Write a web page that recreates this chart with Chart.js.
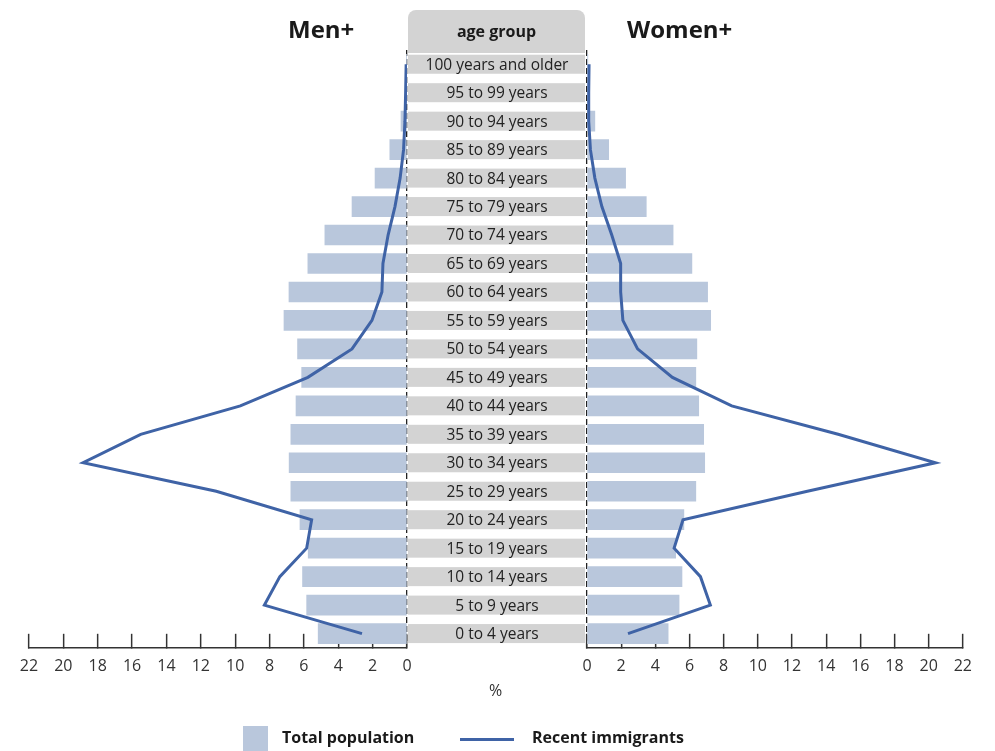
<!DOCTYPE html>
<html>
<head>
<meta charset="utf-8">
<script src="https://cdn.jsdelivr.net/npm/chart.js@4.4.0/dist/chart.umd.min.js"></script>
<style>
  body { margin: 0; background: #fff; font-family: "Open Sans", Lato, sans-serif; color: #1a1a1a; }
  #wrap { position: relative; width: 995px; height: 751px; overflow: hidden; }
  canvas { position: absolute; left: 0; top: 0; }
  .titulo { position: absolute; top: 12px; font-size: 24px; font-weight: bold; }
  #cabecera { position: absolute; left: 408px; top: 10px; width: 177px; height: 43px; background: #d3d3d3;
    border-radius: 8px 8px 0 0; text-align: center; line-height: 43px; font-size: 16px; font-weight: bold; }
  #pct { position: absolute; left: 489px; top: 679px; font-size: 16px; color: #333; }
  .ley { position: absolute; top: 726px; font-size: 16px; font-weight: bold; }
</style>
</head>
<body>
<div id="wrap">
  <canvas id="grafHombres" width="995" height="751"></canvas>
  <canvas id="grafMujeres" width="995" height="751"></canvas>
  <div class="titulo" style="left:288px">Men+</div>
  <div class="titulo" style="left:627px">Women+</div>
  <div id="cabecera">age group</div>
  <div id="pct">%</div>
  <div style="position:absolute;left:243px;top:726px;width:25px;height:25px;background:#b9c7dc"></div>
  <div class="ley" style="left:282px">Total population</div>
  <div style="position:absolute;left:460px;top:738px;width:54px;height:3px;background:#3f63a6"></div>
  <div class="ley" style="left:532px">Recent immigrants</div>
</div>
<script>
// grupos de edad, de arriba a abajo
const grupos = ['100 years and older', '95 to 99 years', '90 to 94 years', '85 to 89 years', '80 to 84 years',
  '75 to 79 years', '70 to 74 years', '65 to 69 years', '60 to 64 years', '55 to 59 years', '50 to 54 years',
  '45 to 49 years', '40 to 44 years', '35 to 39 years', '30 to 34 years', '25 to 29 years', '20 to 24 years',
  '15 to 19 years', '10 to 14 years', '5 to 9 years', '0 to 4 years'];

const hombresTotal = [0.03, 0.1, 0.35, 1.0, 1.86, 3.2, 4.78, 5.77, 6.87, 7.16, 6.37, 6.13, 6.46, 6.76, 6.86, 6.76, 6.23, 5.75, 6.08, 5.84, 5.17];
const hombresInmig = [0.05, 0.08, 0.12, 0.2, 0.4, 0.7, 1.1, 1.4, 1.46, 2.04, 3.2, 5.77, 9.7, 15.5, 18.85, 11.1, 5.55, 5.84, 7.4, 8.3, 2.62];
const mujeresTotal = [0.05, 0.1, 0.46, 1.27, 2.26, 3.47, 5.04, 6.14, 7.06, 7.24, 6.43, 6.37, 6.54, 6.83, 6.89, 6.37, 5.67, 5.19, 5.56, 5.39, 4.75];
const mujeresInmig = [0.12, 0.1, 0.1, 0.2, 0.46, 0.87, 1.45, 1.97, 1.97, 2.1, 2.96, 5.0, 8.47, 14.7, 20.4, 12.9, 5.62, 5.1, 6.64, 7.22, 2.4];

const marcasX = [0, 2, 4, 6, 8, 10, 12, 14, 16, 18, 20, 22];

const colorBarra = '#b9c7dc';
const colorLinea = '#3f63a6';
const fuente = '"Open Sans", Lato, sans-serif';

// etiquetas grises del centro, dibujadas en el grafico de mujeres
const etiquetasCentro = {
  id: 'etiquetasCentro',
  beforeDraw(chart) {
    const ctx = chart.ctx;
    const y = chart.scales.y;
    const izq = chart.chartArea.left;
    ctx.save();
    ctx.font = '15.5px ' + fuente;
    ctx.textAlign = 'center';
    ctx.textBaseline = 'middle';
    grupos.forEach((g, i) => {
      const py = y.getPixelForValue(i);
      ctx.fillStyle = '#d3d3d3';
      ctx.fillRect(izq - 179, py - 9.5, 177, 19);
      ctx.fillStyle = '#222';
      ctx.fillText(g, izq - 90, py + 1);
    });
    ctx.restore();
  }
};

function opciones(invertir, padding) {
  return {
    indexAxis: 'y',
    responsive: false,
    animation: false,
    layout: { padding: padding },
    plugins: { legend: { display: false }, tooltip: { enabled: false } },
    scales: {
      y: { type: 'category', display: false },
      x: {
        type: 'linear',
        reverse: invertir,
        min: 0,
        max: 22,
        afterBuildTicks: (eje) => { eje.ticks = marcasX.map(v => ({ value: v })); },
        border: { display: true, color: '#333', width: 1.5, dash: [6, 3] },
        grid: {
          drawOnChartArea: true,
          drawTicks: true,
          tickLength: -14,
          tickColor: '#333',
          tickWidth: 1.5,
          lineWidth: 1.3,
          color: (c) => (c.tick && c.tick.value === 0 ? '#222' : 'rgba(0,0,0,0)')
        },
        ticks: { padding: 23, color: '#333', font: { family: fuente, size: 16 }, autoSkip: false }
      }
    }
  };
}

function datos(total, inmig) {
  return {
    labels: grupos,
    datasets: [
      {
        type: 'line',
        label: 'Recent immigrants',
        data: inmig,
        borderColor: colorLinea,
        borderWidth: 3,
        pointRadius: 0,
        tension: 0,
        fill: false,
        order: 0
      },
      {
        type: 'bar',
        label: 'Total population',
        data: total,
        backgroundColor: colorBarra,
        barThickness: 20,
        order: 1
      }
    ]
  };
}

new Chart(document.getElementById('grafHombres'), {
  type: 'bar',
  data: datos(hombresTotal, hombresInmig),
  options: opciones(true, { left: 29, right: 588, top: 50, bottom: 52 })
});

new Chart(document.getElementById('grafMujeres'), {
  type: 'bar',
  data: datos(mujeresTotal, mujeresInmig),
  options: opciones(false, { left: 587, right: 28, top: 50, bottom: 52 }),
  plugins: [etiquetasCentro]
});
</script>
</body>
</html>
